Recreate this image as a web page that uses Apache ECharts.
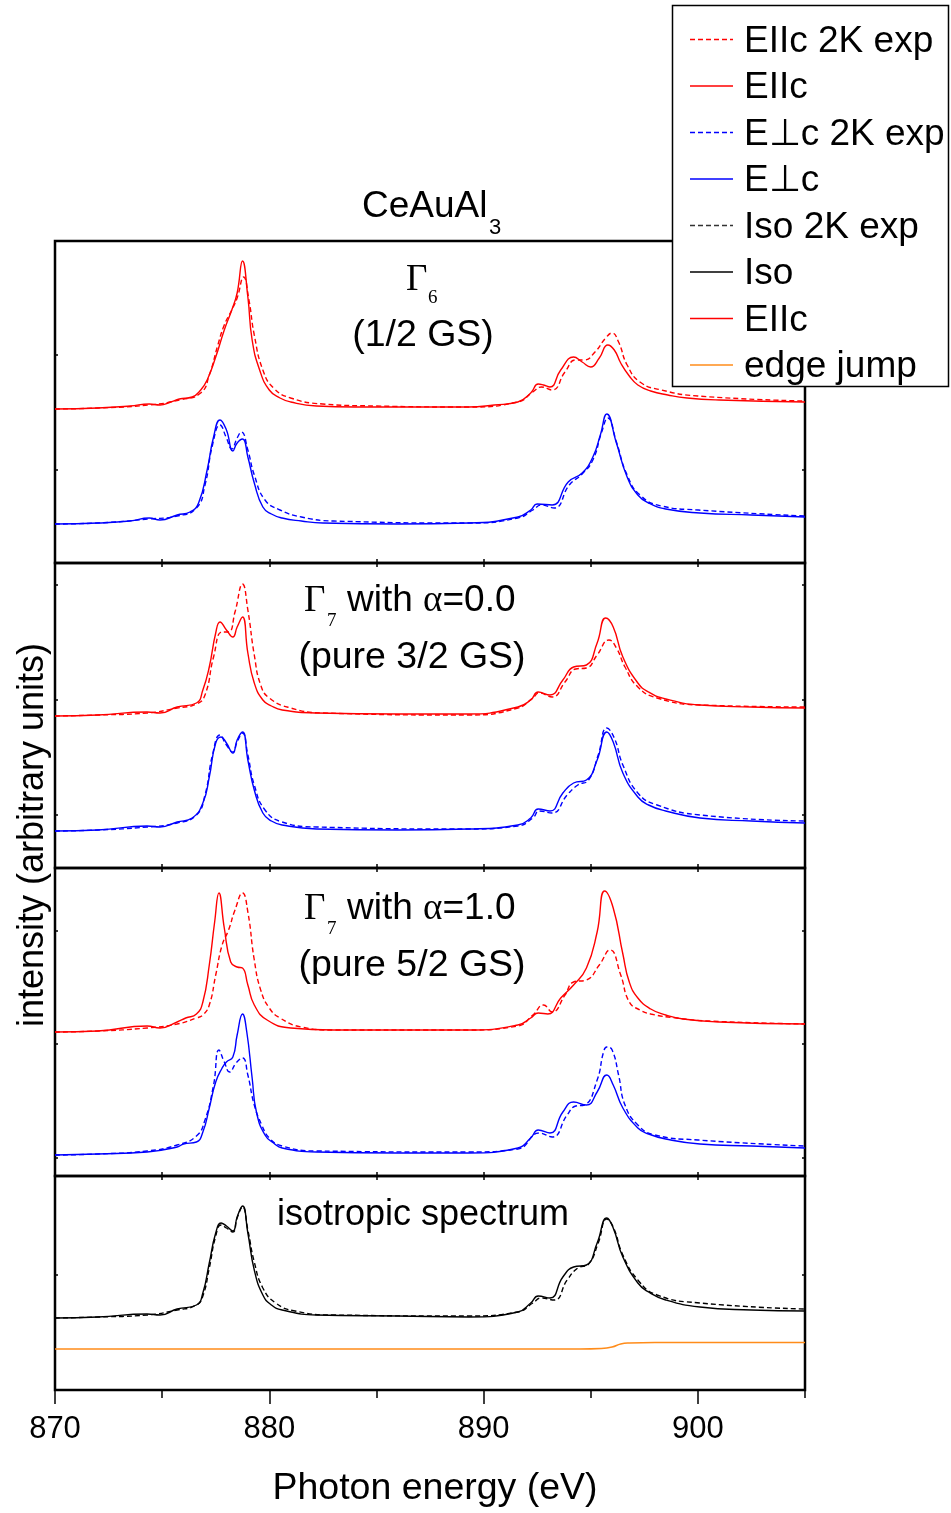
<!DOCTYPE html>
<html><head><meta charset="utf-8">
<script src="https://cdn.jsdelivr.net/npm/echarts@6/dist/echarts.min.js"></script>
<style>html,body{margin:0;padding:0;background:#fff}#c{width:951px;height:1513px}</style>
</head><body><div id="c"></div>
<script>
// ---------- tick labels ----------
const xTickLabels = [870, 880, 890, 900];
const xMinorTicks = [875, 885, 895, 905];
const xInnerTicks = [870, 875, 880, 885, 890, 895, 900, 905];
const p1YTicks = [0.93, 2.08];
const p2YTicks = [0.53, 1.68, 2.83];
const p3YTicks = [0.18, 1.32, 2.45];
const p4YTicks = [1.15];
const legendLabels = ['EIIc 2K exp', 'EIIc', 'E\u22A5c 2K exp', 'E\u22A5c', 'Iso 2K exp', 'Iso', 'EIIc', 'edge jump'];

// ---------- panel 1 : Gamma6 (1/2 GS) ----------
const p1ParExp = [[870,1.54],[872,1.55],[874.4,1.58],[875.8,1.63],[876.8,1.70],[877.2,1.88],[877.6,2.18],[877.9,2.38],[878.25,2.53],[878.5,2.65],[878.8,2.86],[879.05,2.63],[879.3,2.28],[879.7,1.93],[880.2,1.75],[881,1.65],[882.5,1.59],[885,1.57],[889.3,1.56],[891.6,1.61],[892.3,1.71],[892.7,1.76],[893.2,1.73],[893.8,1.91],[894.3,2.03],[894.7,2.03],[895.2,2.11],[895.7,2.25],[896,2.30],[896.3,2.21],[896.7,1.98],[897.3,1.81],[898.3,1.73],[900,1.67],[905,1.62]];
const p1ParCalc = [[870,1.54],[872,1.55],[873.5,1.57],[874.4,1.59],[874.9,1.58],[875.4,1.61],[875.8,1.64],[876.4,1.66],[876.8,1.73],[877.1,1.83],[877.5,2.06],[877.9,2.33],[878.25,2.53],[878.5,2.70],[878.75,3.02],[879,2.66],[879.2,2.23],[879.55,1.93],[880,1.73],[880.5,1.65],[881,1.61],[882.2,1.57],[884,1.56],[889.3,1.56],[890.5,1.58],[891.6,1.61],[892.2,1.70],[892.55,1.79],[892.8,1.78],[893.1,1.76],[893.6,1.93],[894.2,2.06],[894.6,2.01],[895,1.96],[895.4,2.05],[895.8,2.18],[896.1,2.13],[896.4,2.00],[896.8,1.87],[897.2,1.78],[897.8,1.72],[898.6,1.68],[899.5,1.65],[901,1.63],[905,1.61]];
const p1PerpExp = [[870,0.39],[872,0.40],[874.4,0.44],[875.7,0.47],[876.6,0.55],[877,0.78],[877.35,1.18],[877.7,1.38],[878,1.25],[878.25,1.14],[878.5,1.25],[878.7,1.31],[879,1.13],[879.3,0.88],[879.8,0.63],[880.5,0.53],[881.5,0.46],[883,0.42],[889.3,0.40],[891.6,0.45],[892.3,0.53],[892.7,0.58],[893.3,0.55],[894,0.78],[894.6,0.89],[895.1,1.03],[895.5,1.30],[895.8,1.45],[896.2,1.21],[896.7,0.88],[897.3,0.68],[898.3,0.57],[900,0.53],[905,0.47]];
const p1PerpCalc = [[870,0.39],[872,0.40],[873.5,0.42],[874.4,0.45],[874.9,0.43],[875.7,0.48],[876.3,0.51],[876.7,0.60],[877.1,0.93],[877.4,1.26],[877.7,1.43],[878,1.33],[878.3,1.12],[878.5,1.20],[878.75,1.24],[879,1.06],[879.3,0.80],[879.7,0.56],[880.1,0.49],[880.6,0.45],[881.5,0.42],[882.5,0.40],[886,0.39],[889.3,0.40],[891.6,0.46],[892.2,0.53],[892.5,0.59],[893.2,0.58],[893.95,0.81],[894.6,0.90],[895.1,1.06],[895.45,1.28],[895.75,1.49],[896.2,1.20],[896.7,0.86],[897.2,0.68],[897.7,0.60],[898.5,0.54],[900.1,0.50],[902.5,0.48],[905,0.46]];

// ---------- panel 2 : Gamma7 alpha=0.0 ----------
const p2ParExp = [[870,1.52],[872,1.53],[874.3,1.55],[875.7,1.60],[876.6,1.64],[877,1.73],[877.4,2.11],[877.8,2.36],[878.1,2.36],[878.4,2.56],[878.75,2.84],[879,2.58],[879.3,2.13],[879.6,1.83],[880,1.70],[881,1.60],[882.5,1.55],[889.3,1.53],[891.6,1.60],[892.3,1.70],[892.6,1.75],[893.2,1.71],[893.8,1.86],[894.3,1.99],[894.8,2.00],[895.3,2.13],[895.85,2.28],[896.2,2.20],[896.6,2.01],[897.2,1.81],[898.1,1.70],[900.1,1.63],[905,1.61]];
const p2ParCalc = [[870,1.52],[872,1.53],[874.3,1.56],[874.9,1.55],[875.7,1.61],[876.6,1.65],[876.9,1.78],[877.2,2.01],[877.5,2.35],[877.7,2.46],[878,2.38],[878.3,2.31],[878.5,2.41],[878.75,2.51],[879,2.15],[879.3,1.85],[879.7,1.68],[880.1,1.62],[880.6,1.58],[882.2,1.55],[886,1.54],[889.3,1.54],[891.6,1.61],[892.2,1.68],[892.55,1.76],[893.1,1.73],[893.7,1.88],[894.2,2.01],[894.8,2.03],[895.3,2.25],[895.7,2.50],[896.05,2.41],[896.5,2.11],[897.2,1.85],[897.7,1.76],[898.5,1.69],[900.1,1.63],[902.5,1.61],[905,1.60]];
const p2PerpExp = [[870,0.37],[872,0.38],[874.3,0.41],[875.7,0.45],[876.6,0.53],[877,0.73],[877.35,1.13],[877.7,1.33],[878,1.23],[878.3,1.16],[878.5,1.26],[878.75,1.35],[879,1.13],[879.3,0.83],[879.8,0.58],[880.6,0.46],[882.2,0.41],[889.3,0.39],[891.6,0.42],[892.3,0.50],[892.6,0.57],[893.2,0.55],[893.9,0.73],[894.4,0.83],[894.9,0.88],[895.35,1.13],[895.75,1.40],[896.1,1.30],[896.5,1.03],[897.2,0.75],[898.1,0.63],[900.1,0.53],[905,0.47]];
const p2PerpCalc = [[870,0.37],[872,0.38],[874.3,0.42],[874.9,0.41],[875.7,0.46],[876.4,0.50],[876.9,0.65],[877.2,0.91],[877.5,1.25],[877.75,1.31],[878,1.25],[878.3,1.15],[878.5,1.28],[878.75,1.36],[879,1.08],[879.3,0.78],[879.7,0.55],[880.1,0.47],[880.6,0.43],[882.2,0.39],[886,0.38],[889.3,0.39],[891.6,0.43],[892.2,0.50],[892.55,0.59],[893.1,0.57],[893.7,0.75],[894.2,0.85],[894.8,0.88],[895.3,1.08],[895.75,1.36],[896.05,1.26],[896.5,0.95],[897.2,0.71],[897.7,0.63],[898.5,0.57],[900.1,0.50],[902.5,0.47],[905,0.45]];

// ---------- panel 3 : Gamma7 alpha=1.0 ----------
const p3ParExp = [[870,1.44],[872,1.45],[874.3,1.48],[875.7,1.52],[876.6,1.58],[876.9,1.61],[877.2,1.71],[877.5,2.01],[877.8,2.31],[878.1,2.46],[878.4,2.66],[878.75,2.83],[879,2.64],[879.3,2.16],[879.6,1.86],[880,1.68],[880.5,1.58],[881.5,1.49],[883,1.46],[889.3,1.46],[891.6,1.50],[892.3,1.61],[892.8,1.71],[893.2,1.64],[893.8,1.81],[894.2,1.94],[894.8,1.96],[895.4,2.11],[895.9,2.26],[896.4,2.01],[896.8,1.74],[897.3,1.66],[897.8,1.62],[899,1.58],[900.5,1.55],[905,1.52]];
const p3ParCalc = [[870,1.44],[872,1.45],[874.3,1.50],[874.9,1.48],[875.7,1.54],[876.1,1.58],[876.6,1.62],[876.9,1.74],[877.2,2.11],[877.45,2.54],[877.65,2.83],[877.9,2.48],[878.2,2.14],[878.5,2.09],[878.75,2.08],[879,1.91],[879.3,1.71],[879.9,1.56],[881,1.48],[883,1.46],[889.3,1.46],[891.6,1.51],[892.2,1.58],[892.55,1.63],[893,1.62],[893.6,1.78],[894.2,1.91],[894.8,2.08],[895.3,2.44],[895.65,2.85],[896.05,2.68],[896.5,2.22],[896.8,1.94],[897.2,1.78],[897.8,1.67],[898.5,1.61],[899.3,1.57],[901,1.54],[905,1.52]];
const p3PerpExp = [[870,0.21],[872,0.22],[874.3,0.25],[875.7,0.31],[876.6,0.40],[877,0.56],[877.4,0.91],[877.65,1.26],[877.9,1.14],[878.15,1.04],[878.45,1.13],[878.75,1.18],[879,1.01],[879.3,0.71],[879.65,0.51],[880,0.38],[880.6,0.30],[882.2,0.25],[889.3,0.24],[891.6,0.27],[892.6,0.43],[893.2,0.39],[893.9,0.61],[894.3,0.70],[894.7,0.71],[895.3,0.96],[895.6,1.24],[895.75,1.29],[896,1.26],[896.3,1.01],[896.6,0.71],[897.2,0.51],[898,0.41],[900,0.36],[905,0.30]];
const p3PerpCalc = [[870,0.21],[872,0.22],[874.3,0.24],[875.7,0.29],[876,0.32],[876.6,0.34],[876.9,0.44],[877.2,0.68],[877.5,0.94],[877.8,1.08],[878,1.14],[878.3,1.19],[878.5,1.41],[878.75,1.62],[878.95,1.44],[879.2,0.98],[879.4,0.64],[879.8,0.41],[880.2,0.33],[880.6,0.28],[882.2,0.24],[886,0.23],[889.3,0.23],[891.6,0.28],[892.2,0.38],[892.55,0.46],[893.1,0.43],[893.7,0.64],[894.2,0.74],[894.8,0.71],[895.3,0.84],[895.75,1.01],[896.05,0.91],[896.5,0.68],[897.2,0.48],[897.7,0.42],[898.5,0.37],[900.1,0.32],[902.5,0.30],[905,0.28]];

// ---------- panel 4 : isotropic ----------
const p4IsoExp = [[870,0.72],[872,0.73],[874.3,0.75],[875.7,0.80],[876.6,0.85],[876.9,0.94],[877.2,1.22],[877.5,1.54],[877.75,1.65],[878,1.62],[878.3,1.58],[878.5,1.72],[878.75,1.83],[879,1.60],[879.3,1.28],[879.7,1.02],[880.3,0.87],[881.2,0.79],[883,0.75],[889.3,0.74],[891.6,0.78],[892.3,0.87],[892.7,0.92],[893.3,0.90],[893.9,1.10],[894.4,1.22],[894.9,1.26],[895.35,1.47],[895.75,1.71],[896.05,1.63],[896.5,1.35],[897.2,1.10],[898.1,0.95],[900.1,0.87],[905,0.81]];
const p4IsoCalc = [[870,0.72],[872,0.73],[874.3,0.76],[874.9,0.75],[875.7,0.81],[876.6,0.85],[876.9,0.97],[877.2,1.27],[877.5,1.57],[877.75,1.67],[878,1.64],[878.3,1.59],[878.5,1.73],[878.75,1.84],[879,1.57],[879.3,1.20],[879.7,0.95],[880.1,0.85],[880.6,0.80],[882.2,0.75],[886,0.74],[889.3,0.73],[891.6,0.78],[892.2,0.87],[892.55,0.94],[893.1,0.92],[893.7,1.13],[894.2,1.23],[894.8,1.25],[895.3,1.47],[895.75,1.72],[896.05,1.62],[896.5,1.33],[897.2,1.07],[897.7,0.98],[898.5,0.90],[900.1,0.83],[902.5,0.80],[905,0.79]];
const p4EdgeJump = [[870,0.41],[894.5,0.41],[895.5,0.415],[896,0.43],[896.4,0.46],[896.8,0.47],[898,0.475],[905,0.475]];

// ---------- layout ----------
const SANS = 'Liberation Sans, Arial, sans-serif';
const SERIF = 'Liberation Serif, Times New Roman, serif';
const RED = '#ff0000', BLUE = '#0000ff', BLACK = '#000000', ORANGE = '#ff8c1a';
const panels = [
  {top: 241, height: 322, ymax: 3.22, yTicks: p1YTicks, lines: [[p1ParExp, RED, true], [p1ParCalc, RED, false], [p1PerpExp, BLUE, true], [p1PerpCalc, BLUE, false]]},
  {top: 563, height: 305, ymax: 3.05, yTicks: p2YTicks, lines: [[p2ParExp, RED, true], [p2ParCalc, RED, false], [p2PerpExp, BLUE, true], [p2PerpCalc, BLUE, false]]},
  {top: 868, height: 308, ymax: 3.08, yTicks: p3YTicks, lines: [[p3ParExp, RED, true], [p3ParCalc, RED, false], [p3PerpExp, BLUE, true], [p3PerpCalc, BLUE, false]]},
  {top: 1176, height: 214, ymax: 2.14, yTicks: p4YTicks, lines: [[p4IsoExp, BLACK, true], [p4IsoCalc, BLACK, false], [p4EdgeJump, ORANGE, false]]}
];

const grid = [], xAxis = [], yAxis = [], series = [];
const tickStyle = {color: '#000', width: 1.5};
panels.forEach((p, i) => {
  grid.push({left: 55, width: 750, top: p.top, height: p.height, show: true, borderColor: '#000', borderWidth: 2.5, backgroundColor: 'transparent'});
  const last = i === panels.length - 1;
  const mainX = xAxis.length;
  if (last) {
    xAxis.push({type: 'value', gridIndex: i, min: 870, max: 905, position: 'bottom', axisLine: {show: false}, splitLine: {show: false},
      axisTick: {show: true, inside: false, length: 14, customValues: xTickLabels, lineStyle: tickStyle},
      axisLabel: {show: true, customValues: xTickLabels, fontSize: 31, fontFamily: SANS, color: '#000', margin: 24}});
    xAxis.push({type: 'value', gridIndex: i, min: 870, max: 905, position: 'bottom', axisLine: {show: false}, splitLine: {show: false},
      axisTick: {show: true, inside: false, length: 8, customValues: xMinorTicks, lineStyle: tickStyle}, axisLabel: {show: false}});
  } else {
    xAxis.push({type: 'value', gridIndex: i, min: 870, max: 905, position: 'bottom', axisLine: {show: false}, splitLine: {show: false},
      axisTick: {show: true, inside: true, length: 4, customValues: xInnerTicks, lineStyle: tickStyle}, axisLabel: {show: false}});
  }
  xAxis.push({type: 'value', gridIndex: i, min: 870, max: 905, position: 'top', axisLine: {show: false}, splitLine: {show: false},
    axisTick: {show: true, inside: true, length: 4, customValues: xInnerTicks, lineStyle: tickStyle}, axisLabel: {show: false}});
  const mainY = yAxis.length;
  ['left', 'right'].forEach(pos => {
    yAxis.push({type: 'value', gridIndex: i, min: 0, max: p.ymax, position: pos, axisLine: {show: false}, splitLine: {show: false},
      axisTick: {show: true, inside: true, length: 3, customValues: p.yTicks, lineStyle: tickStyle}, axisLabel: {show: false}});
  });
  p.lines.forEach(([data, color, dashed]) => {
    series.push({type: 'line', xAxisIndex: mainX, yAxisIndex: mainY, data: data, symbol: 'none', showSymbol: false,
      smooth: 0.5, silent: true,
      lineStyle: {color: color, width: 1.4, type: dashed ? [5, 3] : 'solid'}, z: dashed ? 2 : 3});
  });
});

function txt(x, y, text, size, family, align, extra) {
  return Object.assign({type: 'text', x: x, y: y, z: 50, style: {text: text, fontSize: size, fontFamily: family, fill: '#000',
    align: align, textAlign: align, verticalAlign: 'middle', textVerticalAlign: 'middle'}}, extra || {});
}
const graphic = [];
// title
graphic.push(txt(362, 207, 'CeAuAl', 37, SANS, 'left'));
graphic.push(txt(489, 228, '3', 22, SANS, 'left'));
// axis titles
graphic.push(txt(33, 835, 'intensity (arbitrary units)', 36, SANS, 'center', {rotation: Math.PI / 2}));
graphic.push(txt(435, 1489, 'Photon energy (eV)', 37.5, SANS, 'center'));
// panel annotations
graphic.push(txt(406, 280, '\u0393', 37, SERIF, 'left'));
graphic.push(txt(428, 298, '6', 19, SERIF, 'left'));
graphic.push(txt(423, 336, '(1/2 GS)', 37.5, SANS, 'center'));
const richAlpha = {a: {fontSize: 37, fontFamily: SANS, fill: '#000'}, b: {fontSize: 37, fontFamily: SERIF, fill: '#000'}};
graphic.push(txt(304, 601, '\u0393', 37, SERIF, 'left'));
graphic.push(txt(327, 621, '7', 19, SERIF, 'left'));
graphic.push({type: 'text', x: 347, y: 601, z: 50, style: {text: '{a|with }{b|\u03B1}{a|=0.0}', rich: richAlpha, align: 'left', textAlign: 'left', verticalAlign: 'middle', textVerticalAlign: 'middle'}});
graphic.push(txt(412, 658, '(pure 3/2 GS)', 37.5, SANS, 'center'));
graphic.push(txt(304, 909, '\u0393', 37, SERIF, 'left'));
graphic.push(txt(327, 929, '7', 19, SERIF, 'left'));
graphic.push({type: 'text', x: 347, y: 909, z: 50, style: {text: '{a|with }{b|\u03B1}{a|=1.0}', rich: richAlpha, align: 'left', textAlign: 'left', verticalAlign: 'middle', textVerticalAlign: 'middle'}});
graphic.push(txt(412, 966, '(pure 5/2 GS)', 37.5, SANS, 'center'));
graphic.push(txt(423, 1215, 'isotropic spectrum', 36, SANS, 'center'));
// legend box
graphic.push({type: 'rect', z: 60, shape: {x: 672.5, y: 5.5, width: 276, height: 381}, style: {fill: '#fff', stroke: '#000', lineWidth: 1.5}});
const legendStyles = [[RED, true], [RED, false], [BLUE, true], [BLUE, false], ['#333', true], [BLACK, false], [RED, false], [ORANGE, false]];
legendLabels.forEach((lab, k) => {
  const y = 39.5 + k * 46.5;
  const [c, d] = legendStyles[k];
  graphic.push({type: 'line', z: 61, shape: {x1: 690, y1: y, x2: 733, y2: y}, style: {stroke: c, lineWidth: 1.3, lineDash: d ? [5, 3] : null}});
  graphic.push(Object.assign(txt(744, y + 2, lab, 37, SANS, 'left'), {z: 61}));
});

const chart = echarts.init(document.getElementById('c'), null, {renderer: 'canvas'});
chart.setOption({animation: false, backgroundColor: '#fff', grid, xAxis, yAxis, series, graphic});
</script></body></html>
